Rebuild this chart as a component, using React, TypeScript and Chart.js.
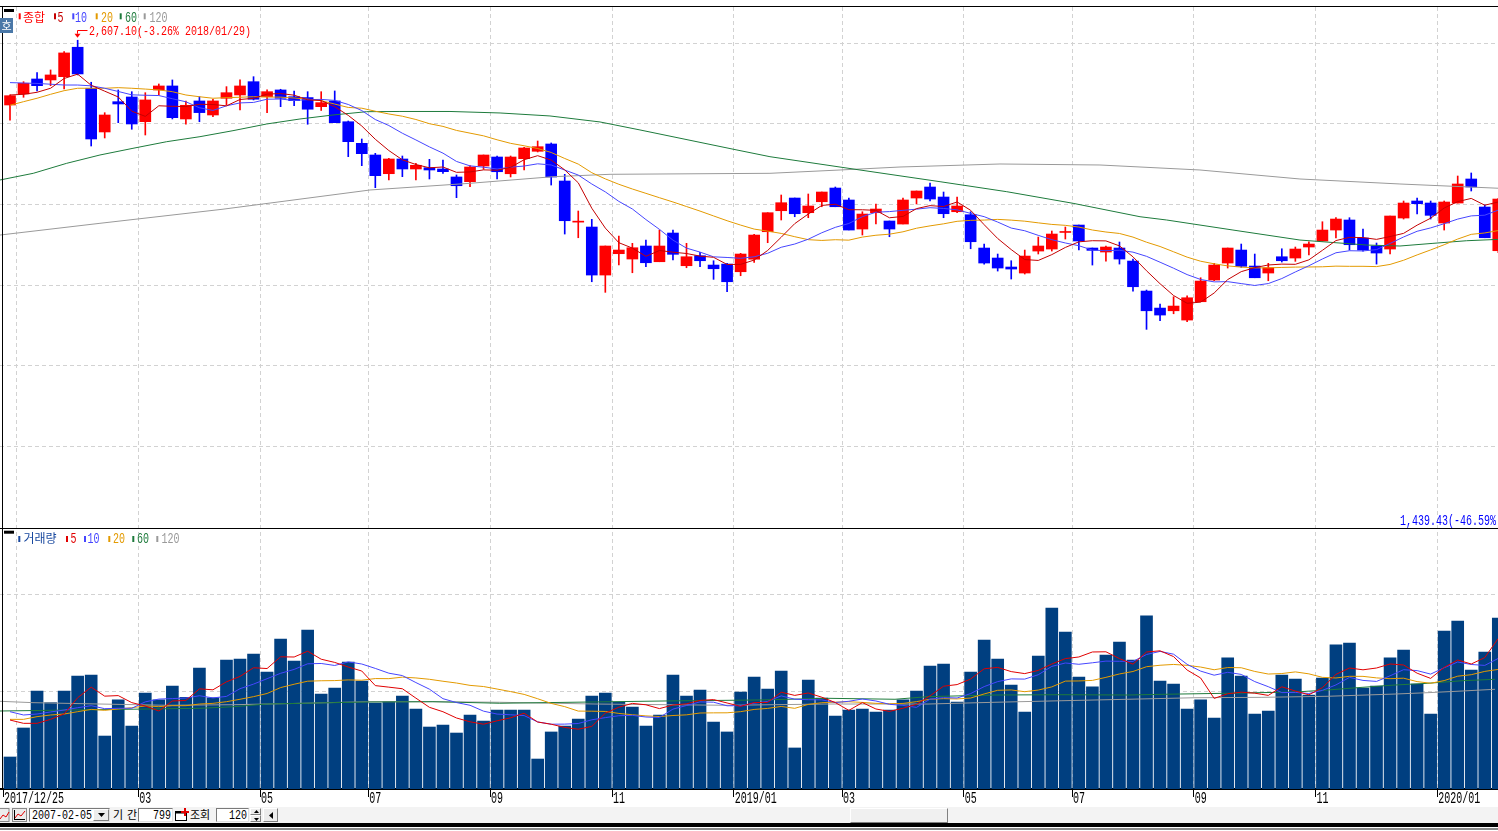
import React, { useEffect, useRef } from "react";
import { Chart, registerables } from "chart.js";

Chart.register(...registerables);

// ---------------- data (weekly, 2017/12/25 .. 2020/02/03) ----------------
const openPrices = [
  2446.5, 2473.8, 2511, 2508.6, 2516.7, 2589.7, 2488, 2379.6, 2454.7, 2466.4,
  2405.1, 2483.8, 2493.7, 2411.8, 2456.5, 2421.7, 2463.2, 2471.4, 2504.3, 2467,
  2483.8, 2467, 2464.9, 2442.3, 2456.5, 2405, 2351.5, 2322.5, 2276.1, 2312.6,
  2287.8, 2291, 2287.8, 2268, 2256.3, 2295.2, 2317.5, 2276, 2313.4, 2331.7,
  2349.8, 2258, 2156, 2143.9, 2024.8, 2077.7, 2064.5, 2096.8, 2057.8, 2129,
  2047.9, 2072.7, 2049.6, 2052, 2033, 2064, 2132.2, 2184.3, 2215.8, 2179.4,
  2206.6, 2240.6, 2210.9, 2138.9, 2179.4, 2158.8, 2151.3, 2215.8, 2243.1, 2218.3,
  2181.8, 2174.4, 2091.8, 2067, 2044.7, 2029.8, 2084.3, 2089.3, 2130.4, 2148.8,
  2091.8, 2081.9, 2091.8, 2059.5, 1985.1, 1942.9, 1936.2, 1913.2, 1958.6, 2012.4,
  2054.6, 2086.8, 2047.1, 2029.8, 2070.2, 2067, 2094.3, 2109.2, 2136.4, 2161.3,
  2116.6, 2096.8, 2089.3, 2166.2, 2208.4, 2203.4, 2153.8, 2203.4, 2263, 2193.5,
  2085.1,
];
const highPrices = [
  2472, 2504.3, 2526.7, 2533.4, 2578.8, 2607.1, 2502.9, 2427.4, 2483.8, 2479.5,
  2477, 2498.6, 2508.6, 2456.5, 2467, 2460.7, 2492, 2508.6, 2516.7, 2483.8,
  2485.5, 2481.3, 2479.5, 2479.5, 2481.3, 2406.8, 2362.2, 2326.7, 2314.3, 2320,
  2302, 2311.8, 2310, 2273, 2296, 2322.5, 2320, 2320, 2341.6, 2357.2,
  2352.3, 2274.6, 2183.6, 2163, 2096.8, 2121.6, 2103.4, 2111.6, 2136.4, 2136.4,
  2103.4, 2081.1, 2060.3, 2053.8, 2078.6, 2125.8, 2179.4, 2223.3, 2215.8, 2225.8,
  2230.7, 2243.1, 2215.8, 2181.8, 2201, 2158.8, 2215.8, 2233.2, 2253, 2230.7,
  2218.3, 2181.8, 2101.7, 2076.9, 2060.3, 2086.8, 2119, 2134, 2143.9, 2148.8,
  2091.8, 2096.8, 2106.7, 2064.5, 1987.6, 1952.9, 1971, 1973.5, 2018.1, 2053.8,
  2091.8, 2101.7, 2076.9, 2053.8, 2090, 2094.3, 2107.4, 2157, 2167, 2167,
  2138.9, 2104.2, 2171.2, 2208.4, 2215.8, 2208.4, 2208.4, 2270.4, 2277.9, 2198.5,
  2215,
];
const lowPrices = [
  2409, 2465.6, 2481.3, 2494.4, 2486.2, 2521, 2344.8, 2364.7, 2402.6, 2386.3,
  2372.1, 2471.4, 2411.8, 2398.7, 2405, 2417.5, 2446.5, 2434.1, 2459, 2427.4,
  2442.3, 2444.8, 2398.7, 2432.9, 2402.6, 2318.3, 2296, 2241.4, 2260.5, 2268.7,
  2260.5, 2263, 2277, 2216.6, 2243.9, 2287, 2263, 2268, 2285.3, 2330,
  2248, 2126.5, 2117.3, 2008.2, 1981.9, 2049.6, 2030.5, 2045.4, 2057.8, 2062,
  2042.9, 2045.4, 2014.1, 1983.4, 2023.1, 2056.3, 2105, 2161.3, 2169.4, 2167,
  2194.2, 2194.2, 2136.4, 2124, 2151.3, 2119.8, 2151.3, 2201, 2208.4, 2167,
  2179.4, 2090, 2052, 2034.7, 2014.9, 2027.3, 2077, 2084.3, 2114.1, 2086.8,
  2049.6, 2059.5, 2052, 1985.1, 1890.1, 1911.4, 1928.8, 1909, 1958.6, 2010.7,
  2042.2, 2043.9, 2018.1, 2010.7, 2057, 2058.8, 2074.4, 2109.2, 2116.6, 2086.8,
  2084.3, 2052, 2076.9, 2163.7, 2176.1, 2163.7, 2136.4, 2203.4, 2233.2, 2117.3,
  2080,
];
const closePrices = [
  2469.6, 2500.4, 2494.4, 2521, 2575.6, 2523.5, 2362.2, 2421.7, 2449, 2399.4,
  2459, 2493.7, 2415, 2445.8, 2427.6, 2456.5, 2477, 2493.7, 2460.7, 2479.5,
  2463.2, 2457.3, 2436, 2452.3, 2402.6, 2355.5, 2325.8, 2271.2, 2312.6, 2287.8,
  2297, 2285.3, 2281.1, 2246.3, 2292.7, 2322.5, 2281, 2317.5, 2339.9, 2343.1,
  2267.9, 2159.5, 2157.2, 2024.8, 2096.8, 2086.8, 2092.5, 2055.3, 2096.8, 2076.2,
  2070.2, 2060.3, 2040.4, 2008.2, 2076.9, 2124, 2179.4, 2204.2, 2176.9, 2196,
  2230.7, 2194.2, 2136.4, 2176.1, 2188.5, 2138.9, 2210.9, 2233.2, 2213.3, 2176.9,
  2196, 2107.4, 2054.6, 2042.2, 2039.7, 2071.9, 2096.8, 2126.5, 2131.3, 2109.2,
  2086, 2094.3, 2064.5, 1995.8, 1936.2, 1925.6, 1947.9, 1968.5, 2009.9, 2049.6,
  2091.8, 2046.4, 2018.1, 2042.9, 2060.3, 2089.3, 2101.7, 2136.4, 2163.7, 2100,
  2086.8, 2079.4, 2171.2, 2203.4, 2201.7, 2172.9, 2205.9, 2250.6, 2243.1, 2117.3,
  2213.3,
];
const volumes = [
  330, 629, 1010, 890, 1010, 1165, 1175, 546, 918, 649,
  990, 918, 1062, 945, 1247, 941, 1330, 1340, 1392, 1206,
  1546, 1320, 1639, 979, 1041, 1309, 1113, 887, 900, 959,
  825, 639, 660, 577, 763, 701, 814, 814, 814, 309,
  588, 649, 722, 959, 990, 897, 845, 649, 763, 1175,
  959, 1021, 691, 588, 1000, 1155, 1031, 1216, 423, 1124,
  938, 753, 814, 825, 794, 814, 918, 1010, 1268, 1289,
  897, 1206, 1536, 1340, 1072, 794, 1371, 1866, 1619, 1155,
  1052, 1381, 1515, 1330, 1784, 1113, 1082, 825, 918, 732,
  1351, 1165, 773, 804, 1175, 1134, 969, 1144, 1485, 1505,
  1041, 1062, 1351, 1433, 1082, 773, 1629, 1732, 1227, 1412,
  1763,
];

// moving-average values visible before enough weeks exist in the window
const priceMa5Lead = [2471.3, 2473, 2478, 2488];
const priceMa10Lead = [2502, 2501, 2500, 2498, 2496, 2496, 2494, 2488, 2480];
const priceMa20Lead = [
  2445.8, 2454.7, 2463.2, 2473, 2482, 2488, 2488, 2488, 2489.5, 2488,
  2486, 2483.8, 2479.5, 2471.3, 2467, 2463.2, 2464.7, 2465.7, 2467,
];
const priceMa60Idx = [
  -0.74, 1.72, 4.19, 6.65, 9.09, 11.58, 14.04, 16.48, 18.97, 21.43, 23.87, 26.36,
  28.82, 32.52, 36.22, 39.91, 43.61, 46.56, 53.73, 56.17, 62.82, 68.74, 73.67,
  78.57, 83.52, 85.49, 90.39, 95.34, 100.27, 102.73, 105.17, 107.66, 110.1,
];
const priceMa60Val = [
  2260.5, 2277.1, 2301.9, 2322.5, 2339.1, 2355.5, 2367.9, 2382.8, 2399.4, 2411.8, 2421.7, 2429.9,
  2430.4, 2430.4, 2426.7, 2419.3, 2404.4, 2384.6, 2334.9, 2318.3, 2285.3, 2256.3, 2231.5,
  2202.7, 2169.4, 2161.3, 2136.4, 2111.6, 2099.2, 2096.8, 2103.4, 2109.9, 2113.4,
];
const priceMa120Idx = [
  -0.74, 6.65, 15.67, 26.61, 34.0, 40.13, 44.35, 56.17, 61.35, 65.78, 73.17,
  80.56, 87.95, 95.34, 102.73, 110.1,
];
const priceMa120Val = [
  2124, 2153.1, 2187.8, 2235.7, 2252.3, 2268.7, 2274.6, 2277.1, 2285.3, 2292.7, 2300.2,
  2297.7, 2285.3, 2263, 2250.6, 2239.9,
];

const volMa5Lead = [711, 677, 677, 718];
const volMa10Lead = [797, 763, 773, 794, 814, 838, 859, 828, 832];
const volMa20Lead = [
  718, 718, 746, 763, 773, 797, 821, 811, 825, 838,
  856, 849, 859, 859, 876, 883, 900, 925, 952,
];
const volMa60Idx = [
  -0.74, 14.04, 16.48, 19.0, 23.87, 26.39, 31.26, 36.2, 48.19, 55.58, 60.46,
  65.41, 67.85, 72.8, 77.75, 82.63, 85.14, 90.02, 95.0, 97.41, 99.93, 102.37,
  104.8, 107.32, 109.76,
];
const volMa60Val = [
  804, 832, 848, 876, 890, 897, 900, 884, 907, 918, 935,
  925, 952, 969, 972, 969, 976, 987, 1000, 1021, 1048, 1072,
  1090, 1116, 1131,
];
const volMa120Idx = [
  -0.74, 1.7, 6.65, 11.6, 16.48, 21.43, 26.39, 31.26, 36.2, 43.24, 53.07, 60.46,
  67.85, 72.8, 77.75, 82.63, 87.58, 92.53, 97.41, 102.37, 104.8, 107.32, 109.76,
];
const volMa120Val = [
  904, 890, 876, 863, 869, 883, 900, 900, 894, 876, 863, 876,
  876, 894, 910, 925, 941, 945, 956, 979, 993, 1010, 1028,
];

const xTickIdx = [0, 1, 10, 19, 27, 36, 45, 54, 62, 71, 79, 88, 97, 106];
const xTickLabels = [
  "2017/12/25", "", "03", "05", "07", "09", "11", "2019/01", "03", "05", "07", "09", "11", "2020/01",
];
const priceGrid = [1600, 1800, 2000, 2200, 2400, 2600];
const volumeGrid = [1000, 2000];

const priceLegendName = "종합";
const volumeLegendName = "거래량";
const maPeriods = ["5", "10", "20", "60", "120"];
const peakNote = "(-3.26% 2018/01/29)";
const lowNote = "1,439.43(-46.59%";

// ---------------- styles ----------------
const W = 1498;
const H = 806;
const X_MIN = -0.7391;
const X_MAX = 109.978;
const UP = "#FF0000";
const DOWN = "#0000FF";
const MA5P = "#C40000";
const MA5V = "#E00000";
const MA10 = "#4646FF";
const MA20 = "#E39A00";
const MA60 = "#1E7B3C";
const MA120 = "#9A9A9A";
const VOL = "#003F80";
const GRID = "#d2d2d2";
const CJK = '"Noto Sans CJK KR", sans-serif';
const MONO = '"Liberation Mono", "DejaVu Sans Mono", monospace';

function movingAverage(values: number[], n: number, lead: number[]): number[] {
  return values.map((_, i) => {
    if (i < n - 1) return lead[i];
    let s = 0;
    for (let k = i - n + 1; k <= i; k++) s += values[k];
    return s / n;
  });
}

function fmtNum(v: number): string {
  return v.toLocaleString("en-US", { minimumFractionDigits: 2, maximumFractionDigits: 2 });
}

function monoText(ctx: any, text: string, x: number, baseline: number, color: string, sy = 1.42) {
  ctx.save();
  ctx.translate(x, baseline);
  ctx.scale(1, sy);
  ctx.font = `10px ${MONO}`;
  ctx.fillStyle = color;
  ctx.textAlign = "left";
  ctx.textBaseline = "alphabetic";
  ctx.fillText(text, 0, 0);
  ctx.restore();
}

function drawLegend(
  ctx: any,
  boxY: number,
  rectY: number,
  baseline: number,
  name: string,
  colors: string[],
  rectX: number[],
  textX: number[]
) {
  ctx.fillStyle = "#000";
  ctx.fillRect(4, boxY, 10, 3);
  for (let i = 0; i < rectX.length; i++) {
    ctx.fillStyle = colors[i];
    ctx.fillRect(rectX[i], rectY, 2, 6);
  }
  ctx.save();
  ctx.font = `12px ${CJK}`;
  ctx.fillStyle = colors[0];
  ctx.textBaseline = "alphabetic";
  ctx.fillText(name, textX[0], baseline);
  ctx.restore();
  for (let i = 1; i < textX.length; i++) {
    monoText(ctx, maPeriods[i - 1], textX[i], baseline, colors[i], 1.5);
  }
}

const decorPlugin = {
  id: "decor",
  afterDraw(chart: any) {
    const ctx = chart.ctx;
    const xs = chart.scales.x;
    const ys = chart.scales.y;
    const area = chart.chartArea;
    ctx.save();
    ctx.fillStyle = "#000";
    ctx.fillRect(0, 6, W, 1);
    ctx.fillRect(2, 6, 1, area.bottom - 6);
    ctx.fillRect(0, Math.round(ys.bottom) + 1, W, 1);

    // x-axis labels, placed at the x scale's tick positions
    xs.ticks.forEach((t: any, i: number) => {
      const label = xTickLabels[i];
      if (!label) return;
      monoText(ctx, label, xs.getPixelForValue(t.value) + 0.8, area.bottom + 14, "#000", 1.65);
    });

    drawLegend(
      ctx, 9, 13.3, 21.5, priceLegendName,
      [UP, MA5P, MA10, MA20, MA60, MA120],
      [18.7, 54, 72.3, 95.7, 119.7, 143.7],
      [23, 57.5, 75, 101, 125, 149.5]
    );
    drawLegend(
      ctx, 530.7, 536, 543.3, volumeLegendName,
      ["#17479E", MA5V, MA10, MA20, MA60, MA120],
      [18.3, 66, 84, 108.3, 132.3, 156.3],
      [23.5, 70.5, 87.5, 113, 137, 161.5]
    );

    // "호" tab
    ctx.fillStyle = "#4A78A8";
    ctx.fillRect(0, 18, 13, 15);
    ctx.fillStyle = "#fff";
    ctx.font = `11px ${CJK}`;
    ctx.textAlign = "center";
    ctx.textBaseline = "middle";
    ctx.fillText("호", 6.5, 26);
    ctx.textAlign = "left";

    // highest-price marker
    let hi = 0;
    for (let i = 1; i < highPrices.length; i++) if (highPrices[i] > highPrices[hi]) hi = i;
    const px = xs.getPixelForValue(hi);
    const py = ys.getPixelForValue(highPrices[hi]);
    const ax = Math.floor(px) + 0.5;
    const ly = Math.round(py - 10.5) + 0.5;
    ctx.strokeStyle = UP;
    ctx.lineWidth = 1;
    ctx.beginPath();
    ctx.moveTo(ax + 10, ly);
    ctx.lineTo(ax, ly);
    ctx.lineTo(ax, py - 6.5);
    ctx.stroke();
    ctx.fillStyle = UP;
    ctx.beginPath();
    ctx.moveTo(ax - 3, py - 6.5);
    ctx.lineTo(ax + 3, py - 6.5);
    ctx.lineTo(ax, py - 2.5);
    ctx.closePath();
    ctx.fill();
    monoText(ctx, fmtNum(highPrices[hi]) + peakNote, ax + 11.5, py - 5.3, UP, 1.36);

    // low reference label
    monoText(ctx, lowNote, 1400, Math.round(ys.bottom) - 2, DOWN, 1.45);
    ctx.restore();
  },
};

export default function App() {
  const ref = useRef<HTMLCanvasElement>(null);

  useEffect(() => {
    const canvas = ref.current as HTMLCanvasElement;
    const pts = (arr: number[]) => arr.map((v, i) => ({ x: i, y: v }));
    const ptsXY = (xs: number[], ys: number[]) => xs.map((x, i) => ({ x, y: ys[i] }));
    const candleColors = closePrices.map((c, i) => (c >= openPrices[i] ? UP : DOWN));

    const line = (data: any[], color: string, yAxisID: string) => ({
      type: "line",
      data,
      borderColor: color,
      borderWidth: 1,
      pointRadius: 0,
      pointHoverRadius: 0,
      tension: 0,
      fill: false,
      xAxisID: "x",
      yAxisID,
      order: 0,
    });

    const chart = new Chart(canvas, {
      type: "bar",
      data: {
        datasets: [
          line(pts(movingAverage(closePrices, 5, priceMa5Lead)), MA5P, "y"),
          line(pts(movingAverage(closePrices, 10, priceMa10Lead)), MA10, "y"),
          line(pts(movingAverage(closePrices, 20, priceMa20Lead)), MA20, "y"),
          line(ptsXY(priceMa60Idx, priceMa60Val), MA60, "y"),
          line(ptsXY(priceMa120Idx, priceMa120Val), MA120, "y"),
          line(pts(movingAverage(volumes, 5, volMa5Lead)), MA5V, "y2"),
          line(pts(movingAverage(volumes, 10, volMa10Lead)), MA10, "y2"),
          line(pts(movingAverage(volumes, 20, volMa20Lead)), MA20, "y2"),
          line(ptsXY(volMa60Idx, volMa60Val), MA60, "y2"),
          line(ptsXY(volMa120Idx, volMa120Val), MA120, "y2"),
          {
            type: "bar",
            data: openPrices.map((o, i) => ({ x: i, y: [o, closePrices[i]] })),
            backgroundColor: candleColors,
            borderWidth: 0,
            barThickness: 11,
            minBarLength: 1,
            grouped: false,
            xAxisID: "x",
            yAxisID: "y",
            order: 1,
          },
          {
            type: "bar",
            data: lowPrices.map((l, i) => ({ x: i, y: [l, highPrices[i]] })),
            backgroundColor: candleColors,
            borderWidth: 0,
            barThickness: 1,
            minBarLength: 1,
            grouped: false,
            xAxisID: "x",
            yAxisID: "y",
            order: 2,
          },
          {
            type: "bar",
            data: volumes.map((v, i) => ({ x: i, y: v })),
            backgroundColor: VOL,
            borderWidth: 0,
            barThickness: 12,
            grouped: false,
            xAxisID: "x",
            yAxisID: "y2",
            order: 3,
          },
        ] as any,
      },
      options: {
        responsive: false,
        animation: false,
        devicePixelRatio: 1,
        events: [],
        layout: { padding: { top: 7, left: 0, right: 0, bottom: 0 } },
        plugins: { legend: { display: false }, tooltip: { enabled: false } },
        scales: {
          x: {
            type: "linear",
            min: X_MIN,
            max: X_MAX,
            offset: false,
            afterBuildTicks: (s: any) => {
              s.ticks = xTickIdx.map((i) => ({ value: i - 0.5 }));
            },
            afterFit: (s: any) => {
              s.height = 17;
            },
            ticks: {
              display: false,
              autoSkip: false,
              maxRotation: 0,
              minRotation: 0,
              callback: (_v: any, i: number) => xTickLabels[i],
            },
            grid: {
              offset: false,
              lineWidth: 1,
              color: (c: any) => (c.index === 0 ? "rgba(0,0,0,0)" : GRID),
              tickLength: 8,
              tickWidth: 1,
              tickColor: (c: any) => (c.index === 1 ? "rgba(0,0,0,0)" : "#000"),
              tickBorderDash: [],
            },
            border: { display: true, color: "#000", width: 2, dash: [4, 3] },
          },
          y: {
            type: "linear",
            position: "right",
            stack: "panes",
            stackWeight: 520,
            min: 1400,
            max: 2689.5,
            beginAtZero: false,
            afterBuildTicks: (s: any) => {
              s.ticks = priceGrid.map((v) => ({ value: v }));
            },
            afterFit: (s: any) => {
              s.width = 0;
            },
            ticks: { display: false },
            grid: { color: GRID, lineWidth: 1, drawTicks: false, offset: false },
            border: { display: false, dash: [4, 3] },
          },
          y2: {
            type: "linear",
            position: "right",
            stack: "panes",
            stackWeight: 262,
            min: 0,
            max: 2701,
            afterBuildTicks: (s: any) => {
              s.ticks = volumeGrid.map((v) => ({ value: v }));
            },
            afterFit: (s: any) => {
              s.width = 0;
            },
            ticks: { display: false },
            grid: { color: GRID, lineWidth: 1, drawTicks: false, offset: false },
            border: { display: false, dash: [4, 3] },
          },
        },
      } as any,
      plugins: [decorPlugin],
    });
    return () => chart.destroy();
  }, []);

  const inset: React.CSSProperties = {
    position: "absolute",
    top: 2,
    height: 12,
    background: "#fff",
    borderTop: "1px solid #7a7a7a",
    borderLeft: "1px solid #7a7a7a",
    borderRight: "1px solid #e0e0e0",
    borderBottom: "1px solid #e0e0e0",
    color: "#000",
    boxSizing: "content-box",
    overflow: "hidden",
  };
  const monoSpan: React.CSSProperties = {
    position: "absolute",
    top: 2,
    font: `10px ${MONO}`,
    lineHeight: "12px",
    transform: "scaleY(1.3)",
    transformOrigin: "50% 60%",
    whiteSpace: "nowrap",
  };
  const btn: React.CSSProperties = {
    position: "absolute",
    background: "#ececec",
    borderTop: "1px solid #fff",
    borderLeft: "1px solid #fff",
    borderRight: "1px solid #808080",
    borderBottom: "1px solid #808080",
    boxSizing: "border-box",
  };

  return (
    <div
      style={{
        position: "relative",
        width: W,
        height: 831,
        overflow: "hidden",
        background: "#fff",
        fontFamily: CJK,
      }}
    >
      <style>{"body{margin:0;}"}</style>
      <canvas ref={ref} width={W} height={H} style={{ display: "block", position: "absolute", left: 0, top: 0 }} />
      <div style={{ position: "absolute", left: 0, top: 806, width: W, height: 25, background: "#fff", overflow: "hidden" }}>
        <div style={{ position: "absolute", left: 0, top: 1, width: W, height: 16, background: "#f3f3f3" }} />
        <svg style={{ position: "absolute", left: 0, top: 2 }} width={28} height={14}>
          <rect x={-4} y={0.5} width={13} height={13} fill="#ececec" stroke="#8a8a8a" />
          <polyline points="0,11 3,7 6,9 9,4" fill="none" stroke="#e00000" />
          <rect x={12.5} y={0.5} width={14} height={13} fill="#ececec" stroke="#8a8a8a" />
          <line x1={14.5} y1={2} x2={14.5} y2={12} stroke="#000" />
          <line x1={14} y1={11.5} x2={25} y2={11.5} stroke="#000" />
          <polyline points="15,10 18,6 21,8 25,3" fill="none" stroke="#e00000" />
        </svg>
        <div style={{ ...inset, left: 29, width: 79 }}>
          <span style={{ ...monoSpan, left: 2 }}>2007-02-05</span>
          <div style={{ ...btn, right: 0, top: 0, width: 16, height: 12 }}>
            <svg style={{ position: "absolute", left: 4, top: 3 }} width={7} height={5}>
              <polygon points="0,0 7,0 3.5,4" fill="#000" />
            </svg>
          </div>
        </div>
        <span style={{ position: "absolute", left: 113, top: 0, font: `11px ${CJK}`, letterSpacing: 4, color: "#000", lineHeight: "16px" }}>
          기간
        </span>
        <div style={{ ...inset, left: 138, width: 33 }}>
          <span style={{ ...monoSpan, right: 1 }}>799</span>
        </div>
        <svg style={{ position: "absolute", left: 174, top: 2 }} width={15} height={14}>
          <rect x={1.5} y={3.5} width={11} height={9} fill="#fff" stroke="#000" />
          <rect x={1.5} y={3.5} width={11} height={2} fill="#000" />
          <line x1={11} y1={0} x2={11} y2={8} stroke="#e00000" strokeWidth={2} />
          <line x1={7} y1={4} x2={15} y2={4} stroke="#e00000" strokeWidth={2} />
        </svg>
        <span style={{ position: "absolute", left: 190, top: 0, font: `11px ${CJK}`, color: "#000", lineHeight: "16px" }}>
          조회
        </span>
        <div style={{ ...inset, left: 216, width: 31 }}>
          <span style={{ ...monoSpan, right: 1 }}>120</span>
        </div>
        <div style={{ ...btn, left: 250, top: 2, width: 11, height: 7 }}>
          <svg style={{ position: "absolute", left: 3, top: 1 }} width={5} height={3}>
            <polygon points="0,3 5,3 2.5,0" fill="#000" />
          </svg>
        </div>
        <div style={{ ...btn, left: 250, top: 9, width: 11, height: 7 }}>
          <svg style={{ position: "absolute", left: 3, top: 2 }} width={5} height={3}>
            <polygon points="0,0 5,0 2.5,3" fill="#000" />
          </svg>
        </div>
        <div style={{ ...btn, left: 263, top: 2, width: 15, height: 14 }}>
          <svg style={{ position: "absolute", left: 5, top: 3 }} width={4} height={7}>
            <polygon points="4,0 4,7 0,3.5" fill="#000" />
          </svg>
        </div>
        <div style={{ ...btn, left: 850, top: 2, width: 98, height: 15, background: "#f0f0f0" }} />
        <div style={{ position: "absolute", left: 0, top: 17, width: W, height: 4, background: "#000" }} />
        <div style={{ position: "absolute", left: 0, top: 22, width: W, height: 2, background: "#8a8a8a" }} />
      </div>
    </div>
  );
}
